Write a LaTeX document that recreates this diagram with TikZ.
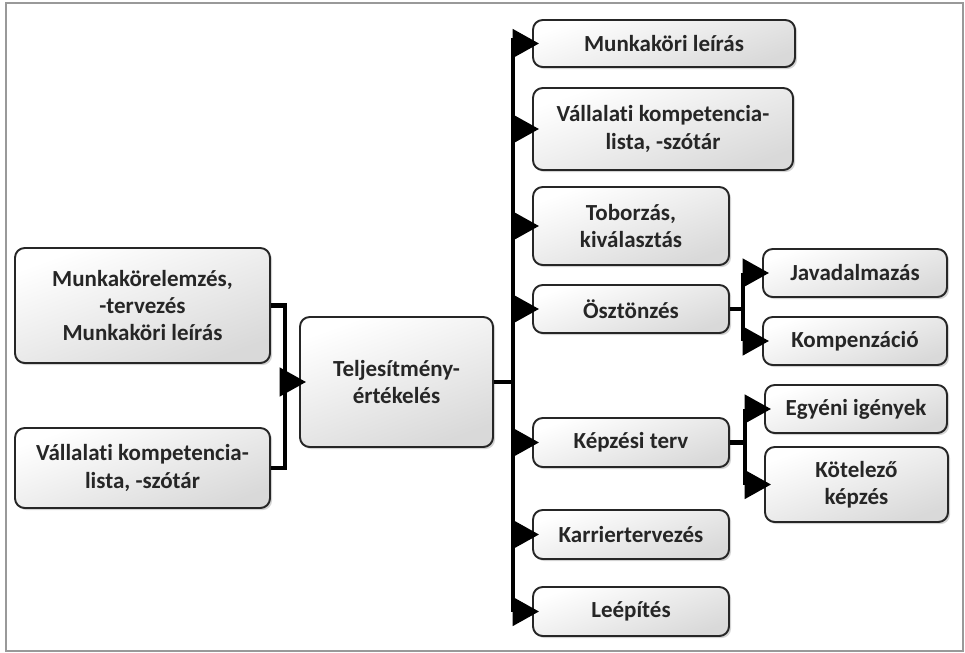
\documentclass[tikz,border=0pt]{standalone}
\usepackage{fontspec}
\setmainfont[Ligatures=NoCommon]{Carlito}
\usetikzlibrary{arrows.meta,shadows}

\tikzset{
    doboz/.style={draw=black!85, line width=1.1pt, rounded corners=5.5pt,
        top color=white, bottom color=gray!30, shading angle=20,
        drop shadow={shadow xshift=1.2pt, shadow yshift=-1.2pt, opacity=0.35},
        align=center, inner sep=2pt, text=black!85,
        font=\fontsize{13.1}{15.6}\selectfont\bfseries},
    vonal/.style={line width=2.4pt, black},
    nyil/.style={line width=2.4pt, black, -{Triangle[length=15pt, width=16pt]}, shorten >=-4pt},
}

\begin{document}
\begin{tikzpicture}[x=0.02cm, y=-0.02cm]
    \useasboundingbox (0,0) rectangle (965,653);
    \draw[gray!80, line width=0.8pt] (6,3) rectangle (963,651);

    % inputs
    \node[doboz, minimum width=255*0.02cm, minimum height=115*0.02cm] (elemzes) at (142.5,305.5)
        {Munkakörelemzés,\\-tervezés\\Munkaköri leírás};
    \node[doboz, minimum width=255*0.02cm, minimum height=80*0.02cm] (bemszotar) at (142.5,468)
        {Vállalati kompetencia-\\lista, -szótár};

    % centre
    \node[doboz, minimum width=193*0.02cm, minimum height=130*0.02cm] (ertekeles) at (396.5,382)
        {Teljesítmény-\\értékelés};

    % outputs
    \node[doboz, minimum width=262*0.02cm, minimum height=47*0.02cm] (leiras) at (664,43.5) {Munkaköri leírás};
    \node[doboz, minimum width=260*0.02cm, minimum height=82*0.02cm] (szotar) at (663,129)
        {Vállalati kompetencia-\\lista, -szótár};
    \node[doboz, minimum width=196*0.02cm, minimum height=78*0.02cm] (toborzas) at (631,226)
        {Toborzás,\\kiválasztás};
    \node[doboz, minimum width=196*0.02cm, minimum height=48*0.02cm] (osztonzes) at (631,309) {Ösztönzés};
    \node[doboz, minimum width=196*0.02cm, minimum height=49*0.02cm] (kepzes) at (631,442.5) {Képzési terv};
    \node[doboz, minimum width=196*0.02cm, minimum height=49*0.02cm] (karrier) at (631,534.5) {Karriertervezés};
    \node[doboz, minimum width=196*0.02cm, minimum height=49*0.02cm] (leepites) at (631,611.5) {Leépítés};

    % second level
    \node[doboz, minimum width=184*0.02cm, minimum height=48*0.02cm] (javadalom) at (855,273) {Javadalmazás};
    \node[doboz, minimum width=184*0.02cm, minimum height=48*0.02cm] (kompenzacio) at (855,341) {Kompenzáció};
    \node[doboz, minimum width=182*0.02cm, minimum height=48*0.02cm] (egyeni) at (856,409) {Egyéni igények};
    \node[doboz, minimum width=183*0.02cm, minimum height=75*0.02cm] (kotelezo) at (856.5,484.5)
        {Kötelező\\képzés};

    % connectors
    \coordinate (bal) at (285,382);
    \coordinate (torzs) at (513,382);
    \coordinate (oag) at (743,309);
    \coordinate (kag) at (745,442.5);

    \draw[vonal] (elemzes.east) -| (bal) |- (bemszotar.east);
    \draw[nyil] (bal) -- (ertekeles.west);

    \draw[vonal] (ertekeles.east) -- (torzs);
    \draw[vonal] ([yshift=3pt]torzs |- leiras.west) -- (torzs |- leepites.west);
    \foreach \n in {leiras,szotar,toborzas,osztonzes,kepzes,karrier,leepites}
        \draw[nyil] (torzs |- \n.west) -- (\n.west);

    \draw[vonal] (osztonzes.east) -- (oag);
    \draw[vonal] (oag |- javadalom.west) -- (oag |- kompenzacio.west);
    \foreach \n in {javadalom,kompenzacio}
        \draw[nyil] (oag |- \n.west) -- (\n.west);

    \draw[vonal] (kepzes.east) -- (kag);
    \draw[vonal] (kag |- egyeni.west) -- (kag |- kotelezo.west);
    \foreach \n in {egyeni,kotelezo}
        \draw[nyil] (kag |- \n.west) -- (\n.west);
\end{tikzpicture}
\end{document}
